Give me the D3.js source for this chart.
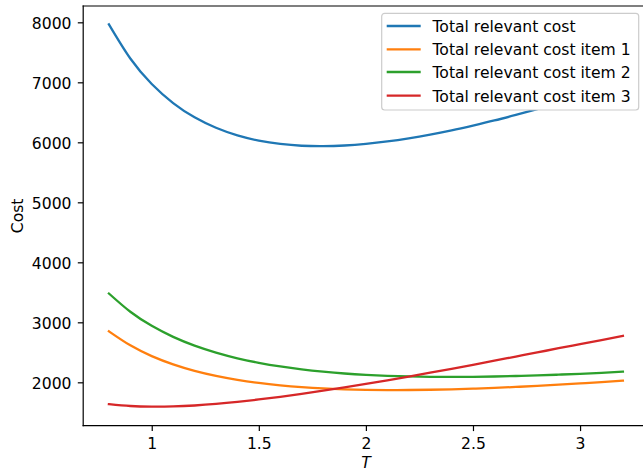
<!DOCTYPE html>
<html>
<head>
<meta charset="utf-8">
<script src="https://cdn.jsdelivr.net/npm/d3@7"></script>
<style>
  html, body { margin: 0; padding: 0; background: #fff; }
  svg { display: block; }
  text { font-family: "DejaVu Sans", sans-serif; fill: #000; }
</style>
</head>
<body>
<svg id="chart" width="643" height="472"></svg>
<script>
// ---- data ----
const T = [0.8, 0.9, 1.0, 1.1, 1.2, 1.3, 1.4, 1.5, 1.6, 1.7, 1.8, 1.9, 2.0,
           2.1, 2.2, 2.3, 2.4, 2.5, 2.6, 2.7, 2.8, 2.9, 3.0, 3.1, 3.2];
const totalCost = [7966, 7397, 6972, 6654, 6416, 6242, 6115, 6028, 5973, 5943, 5936, 5947, 5974,
                   6014, 6066, 6128, 6199, 6279, 6364, 6457, 6554, 6656, 6759, 6867, 6979];
const costItem1 = [2850, 2616, 2437, 2299, 2191, 2107, 2041, 1989, 1950, 1920, 1898, 1884, 1875,
                   1871, 1872, 1876, 1884, 1895, 1907, 1923, 1941, 1960, 1981, 2003, 2027];
const costItem2 = [3480, 3176, 2941, 2757, 2611, 2495, 2400, 2325, 2264, 2215, 2177, 2147, 2125,
                   2109, 2098, 2092, 2090, 2092, 2097, 2105, 2115, 2128, 2142, 2159, 2177];
const costItem3 = [1636, 1605, 1594, 1598, 1614, 1640, 1674, 1714, 1759, 1808, 1861, 1916, 1974,
                   2034, 2096, 2160, 2225, 2292, 2360, 2429, 2498, 2568, 2636, 2705, 2775];
const seriesNames = ["Total relevant cost", "Total relevant cost item 1",
                     "Total relevant cost item 2", "Total relevant cost item 3"];
const xTicks = [1, 1.5, 2, 2.5, 3];
const xTickLabels = ["1", "1.5", "2", "2.5", "3"];
const yTicks = [2000, 3000, 4000, 5000, 6000, 7000, 8000];
const yTickLabels = ["2000", "3000", "4000", "5000", "6000", "7000", "8000"];
const xLabel = "T";
const yLabel = "Cost";

// ---- layout / style ----
const colors = ["#1f77b4", "#ff7f0e", "#2ca02c", "#d62728"];
const FS = 15.6;
const axL = 83.2, axR = 648.6, axT = 6, axB = 425.7;

const svg = d3.select("#chart");

const x = d3.scaleLinear().domain([0.68, 3.32]).range([axL, axR]);
const y = d3.scaleLinear().domain([1277, 8272]).range([axB, axT]);

const seriesValues = [totalCost, costItem1, costItem2, costItem3];
const series = seriesValues.map((vals, i) => ({
  name: seriesNames[i], color: colors[i],
  points: T.map((t, j) => ({ t, v: vals[j] }))
}));

const line = d3.line()
  .x(d => x(d.t))
  .y(d => y(d.v))
  .curve(d3.curveNatural);

svg.append("g").selectAll("path")
  .data(series)
  .join("path")
  .attr("d", d => line(d.points))
  .attr("fill", "none")
  .attr("stroke", d => d.color)
  .attr("stroke-width", 2.3)
  .attr("stroke-linecap", "square")
  .attr("stroke-linejoin", "round");

// axes
const xAxis = d3.axisBottom(x)
  .tickValues(xTicks)
  .tickFormat((d, i) => xTickLabels[i])
  .tickSize(5.4).tickSizeOuter(0).tickPadding(7.1);
const gx = svg.append("g").attr("transform", `translate(0,${axB})`).call(xAxis);
gx.select(".domain").remove();
gx.selectAll("line").attr("stroke", "#000").attr("stroke-width", 1.2);
gx.selectAll("text").attr("font-size", FS).attr("font-family", "DejaVu Sans");

const yAxis = d3.axisLeft(y)
  .tickValues(yTicks)
  .tickFormat((d, i) => yTickLabels[i])
  .tickSize(5.4).tickSizeOuter(0).tickPadding(6.3);
const gy = svg.append("g").attr("transform", `translate(${axL},0)`).call(yAxis);
gy.select(".domain").remove();
gy.selectAll("line").attr("stroke", "#000").attr("stroke-width", 1.2);
gy.selectAll("text").attr("font-size", FS).attr("font-family", "DejaVu Sans").attr("dy", "0.37em");

// spines
const spines = svg.append("g").attr("stroke", "#000").attr("stroke-width", 1.2).attr("stroke-linecap", "square");
spines.append("line").attr("x1", axL).attr("x2", axL).attr("y1", axT).attr("y2", axB);
spines.append("line").attr("x1", axL).attr("x2", axR).attr("y1", axB).attr("y2", axB);
spines.append("line").attr("x1", axL).attr("x2", axR).attr("y1", axT).attr("y2", axT);
spines.append("line").attr("x1", axR).attr("x2", axR).attr("y1", axT).attr("y2", axB);

// axis labels
svg.append("text")
  .attr("x", (axL + axR) / 2).attr("y", 468)
  .attr("text-anchor", "middle")
  .attr("font-size", FS).attr("font-style", "italic")
  .text(xLabel);

svg.append("text")
  .attr("transform", `translate(23.3,${(axT + axB) / 2}) rotate(-90)`)
  .attr("text-anchor", "middle")
  .attr("font-size", FS)
  .text(yLabel);

// legend
const lg = svg.append("g");
lg.append("rect")
  .attr("x", 381.7).attr("y", 13.3)
  .attr("width", 257).attr("height", 96.7)
  .attr("rx", 3).attr("ry", 3)
  .attr("fill", "#fff").attr("stroke", "#cccccc").attr("stroke-width", 1.2);
const rowY = [26, 49.3, 72, 95.7];
const items = lg.selectAll("g.item").data(series).join("g").attr("class", "item");
items.append("line")
  .attr("x1", 386.7).attr("x2", 420.7)
  .attr("y1", (d, i) => rowY[i]).attr("y2", (d, i) => rowY[i])
  .attr("stroke", d => d.color).attr("stroke-width", 2.3);
items.append("text")
  .attr("x", 432.5)
  .attr("y", (d, i) => rowY[i] + 6)
  .attr("font-size", FS)
  .text(d => d.name);
</script>
</body>
</html>
